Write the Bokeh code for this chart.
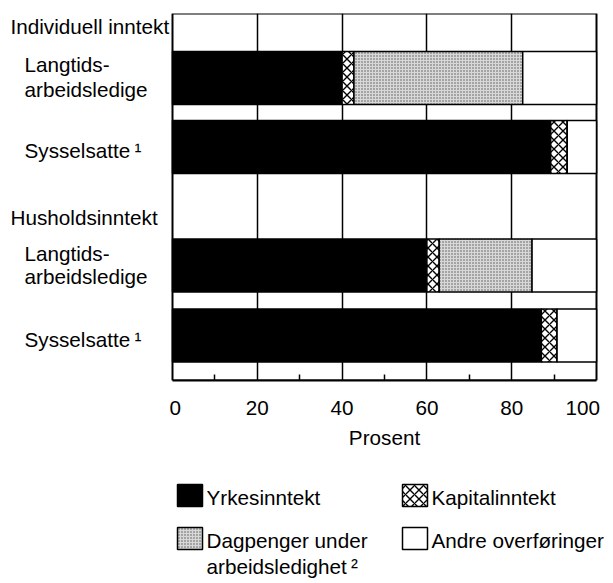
from bokeh.plotting import figure
from bokeh.models import Range1d, FixedTicker
from bokeh.layouts import column
from bokeh.embed import file_html
from bokeh.resources import INLINE
from bokeh.core.properties import value
import numpy as np

# ---------------- data ----------------
groups = ["Individuell inntekt", "Husholdsinntekt"]
row_labels = [["Langtids-", "arbeidsledige"], ["Sysselsatte\u2009\u00b9"],
              ["Langtids-", "arbeidsledige"], ["Sysselsatte\u2009\u00b9"]]
series = ["Yrkesinntekt", "Kapitalinntekt",
          "Dagpenger under arbeidsledighet\u2009\u00b2", "Andre overf\u00f8ringer"]
yrkesinntekt = [40.0, 89.2, 60.0, 87.0]
kapitalinntekt = [2.8, 3.9, 2.9, 3.7]
dagpenger = [39.8, 0.0, 21.9, 0.0]
andre_overforinger = [17.4, 6.9, 15.2, 9.3]
x_ticks = [0, 20, 40, 60, 80, 100]
x_minor_ticks = [10, 30, 50, 70, 90]
axis_title = "Prosent"

# ---------------- style / layout ----------------
FONT = "Liberation Sans"
FS = "20.7px"
W = 611
FRAME_LEFT = 172          # page px of value 0
PX_PER_UNIT = 4.24        # page px per percent
Y_TOP = 367               # chart box height in px (data units == px)
H1 = 422
bar_y = [302.5, 233.5, 115, 45]
bar_h = 53

styles = [
    dict(fill_color="black"),
    dict(fill_color="white", hatch_pattern="diagonal_cross", hatch_color="black",
         hatch_scale=9, hatch_weight=1.4),
    dict(fill_color="#d8d8d8", hatch_pattern="dot", hatch_color="#555555",
         hatch_scale=3, hatch_weight=1),
    dict(fill_color="white"),
]

def px2x(page_x):
    return (page_x - FRAME_LEFT) / PX_PER_UNIT

p = figure(width=W, height=H1,
           x_range=Range1d(px2x(0), px2x(W)), y_range=Range1d(0, Y_TOP),
           output_backend="svg", toolbar_location=None, y_axis_location=None,
           min_border_left=0, min_border_right=0, min_border_top=13,
           min_border_bottom=H1 - 13 - Y_TOP)
p.background_fill_color = "white"
p.border_fill_color = "white"
p.outline_line_color = None
p.ygrid.visible = False
p.xgrid.ticker = FixedTicker(ticks=[t for t in x_ticks if 0 < t < 100])
p.xgrid.grid_line_color = "black"
p.xgrid.grid_line_width = 1.5

ax = p.xaxis[0]
ax.ticker = FixedTicker(ticks=x_ticks, minor_ticks=x_minor_ticks)
ax.bounds = (x_ticks[0], x_ticks[-1])
ax.axis_line_color = "black"
ax.axis_line_width = 2
ax.major_tick_in = 0
ax.major_tick_out = 0
ax.minor_tick_in = 6
ax.minor_tick_out = 0
ax.minor_tick_line_color = "black"
ax.minor_tick_line_width = 1.5
ax.major_label_text_font = FONT
ax.major_label_text_font_size = FS
ax.major_label_text_color = "black"
ax.major_label_standoff = 15
ax.major_label_overrides = {0: "\u00a00", 100: "100\u00a0\u00a0"}

# chart box
p.quad(left=[x_ticks[0]], right=[x_ticks[-1]], bottom=[0], top=[Y_TOP],
       fill_color=None, line_color="black", line_width=2)

vals = np.array([yrkesinntekt, kapitalinntekt, dagpenger, andre_overforinger])
right = np.cumsum(vals, axis=0)
left = right - vals
for i in range(len(series)):
    p.hbar(y=bar_y, left=left[i], right=right[i], height=bar_h,
           line_color="black", line_width=1.5, **styles[i])

# left-hand labels (page x, y in chart px from bottom)
label_items = [
    (groups[0], 10, 354),
    (row_labels[0][0], 24, 316),
    (row_labels[0][1], 24, 291),
    (row_labels[1][0], 24, 230),
    (groups[1], 10, 163),
    (row_labels[2][0], 24, 127),
    (row_labels[2][1], 24, 104),
    (row_labels[3][0], 24, 41),
]
p.text(x=[px2x(t[1]) for t in label_items], y=[t[2] for t in label_items],
       text=[t[0] for t in label_items],
       text_font=value(FONT), text_font_size=value(FS), text_color="black",
       text_align="left", text_baseline="alphabetic")

# ---------------- lower figure: axis title + legend ----------------
H2 = 160
p2 = figure(width=W, height=H2, x_range=Range1d(0, W), y_range=Range1d(H2, 0),
            output_backend="svg", toolbar_location=None,
            x_axis_location=None, y_axis_location=None,
            min_border=0, min_border_left=0, min_border_right=0,
            min_border_top=0, min_border_bottom=0)
p2.outline_line_color = None
p2.grid.visible = False
p2.background_fill_color = "white"
p2.border_fill_color = "white"

# axis title centred under the chart box
p2.text(x=[FRAME_LEFT + PX_PER_UNIT * (x_ticks[0] + x_ticks[-1]) / 2], y=[15],
        text=[axis_title], text_font=value(FONT), text_font_size=value(FS),
        text_color="black", text_align="center", text_baseline="alphabetic")

legend_lines = [[series[0]], [series[1]],
                ["Dagpenger under", "arbeidsledighet\u2009\u00b2"], [series[3]]]
col_x = [177, 402]
box_w = 25
row_top = [62, 105]
box_h = 22
baseline_shift = 13
line_gap = 26
positions = [(0, 0), (1, 0), (0, 1), (1, 1)]
for i, (c, r) in enumerate(positions):
    x0 = col_x[c]
    y0 = row_top[r]
    p2.quad(left=[x0], right=[x0 + box_w], top=[y0], bottom=[y0 + box_h],
            line_color="black", line_width=1.5, **styles[i])
    for k, line in enumerate(legend_lines[i]):
        p2.text(x=[x0 + box_w + 4], y=[y0 + baseline_shift + k * line_gap], text=[line],
                text_font=value(FONT), text_font_size=value(FS), text_color="black",
                text_align="left", text_baseline="alphabetic")

layout = column(p, p2, spacing=0)
open("out.html", "w").write(file_html(layout, INLINE))
